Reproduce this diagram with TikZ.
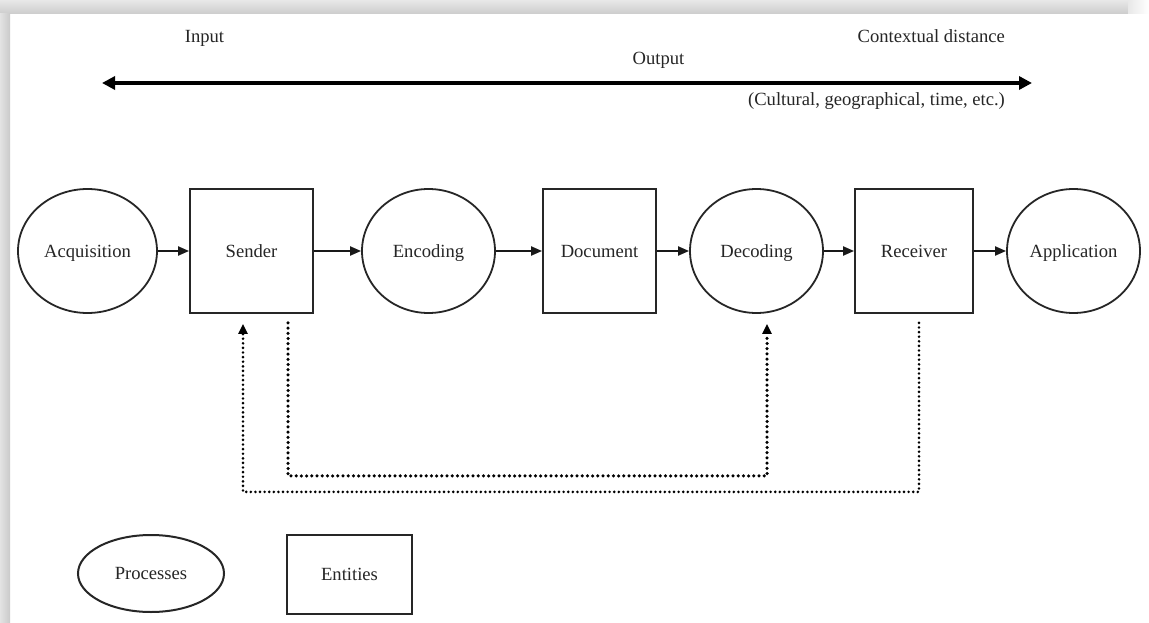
\documentclass[tikz,border=0pt]{standalone}
\usepackage{fontspec}
\setmainfont{Liberation Serif}
\usetikzlibrary{arrows.meta,shapes.geometric,calc}

\begin{document}
\begin{tikzpicture}[x=1pt,y=-1pt,
  every node/.style={font=\fontsize{18.6}{22}\selectfont, text=black!85},
  label/.style={inner sep=0pt},
  process/.style={ellipse, draw=black!85, line width=1.8pt, inner sep=0pt,
    minimum width=133pt, minimum height=124pt, text height=12.7pt, text depth=0pt},
  entity/.style={rectangle, draw=black!85, line width=1.8pt, inner sep=0pt,
    minimum height=124pt, text height=12.7pt, text depth=0pt},
  flow/.style={line width=2pt, draw=black!90, -{Triangle[length=11pt,width=9pt]}},
  feedA/.style={line width=3.5pt, draw=black, line cap=round, dash pattern=on 0pt off 5.2pt,
    -{Triangle[length=10pt,width=9pt]}},
  feedB/.style={line width=2.9pt, draw=black, line cap=round, dash pattern=on 0pt off 4.6pt,
    -{Triangle[length=10pt,width=9pt]}},
  distarrow/.style={line width=3.8pt, draw=black,
    {Triangle[length=13pt,width=13pt]}-{Triangle[length=13pt,width=13pt]}}
]
\useasboundingbox (0,0) rectangle (1149,623);
\fill[white] (0,0) rectangle (1149,623);

% page edge shadow
\fill[top color=gray!18, bottom color=gray!40] (0,0) rectangle (1149,14);
\fill[left color=gray!18, right color=white] (1128,0) rectangle (1149,14);
\fill[left color=gray!22, right color=gray!42] (0,14) rectangle (10,623);

% contextual distance axis
\coordinate (axL) at (102,83);
\coordinate (axR) at (1032,83);
\draw[distarrow] (axL) -- (axR);
\node[label, anchor=base] (lin) at (204.5,43) {Input};
\node[label, anchor=base] (lout) at (658.5,65) {Output};
\node[label, anchor=base east] (lctx) at (1005,43) {Contextual distance};
\node[label, anchor=base east] (lcul) at (1005,106) {(Cultural, geographical, time, etc.)};

% main chain
\node[process, minimum width=139pt] (acq) at (87.5,251) {Acquisition};
\node[entity, minimum width=123pt] (snd) at (251.5,251) {Sender};
\node[process] (enc) at (428.5,251) {Encoding};
\node[entity, minimum width=113pt] (doc) at (599.5,251) {Document};
\node[process] (dec) at (756.5,251) {Decoding};
\node[entity, minimum width=118pt] (rcv) at (914,251) {Receiver};
\node[process] (app) at (1073.5,251) {Application};

\draw[flow] (acq) -- (snd);
\draw[flow] (snd) -- (enc);
\draw[flow] (enc) -- (doc);
\draw[flow] (doc) -- (dec);
\draw[flow] (dec) -- (rcv);
\draw[flow] (rcv) -- (app);

% feedback paths
\coordinate (a1) at ($(snd.south)+(36.5,9)$);
\coordinate (a2) at ($(dec.south)+(10.5,10)$);
\draw[feedA] (a1) -- ++(0,153) -| (a2);
\coordinate (b1) at ($(rcv.south)+(5,9)$);
\coordinate (b2) at ($(snd.south)+(-8.5,10)$);
\draw[feedB] (b1) -- ++(0,169) -| (b2);

% legend
\node[process, line width=2pt, minimum width=146pt, minimum height=77pt] (kproc) at (151,573.5) {Processes};
\node[entity, line width=2pt, minimum width=125pt, minimum height=79pt] (kent) at (349.5,574.5) {Entities};
\end{tikzpicture}
\end{document}
